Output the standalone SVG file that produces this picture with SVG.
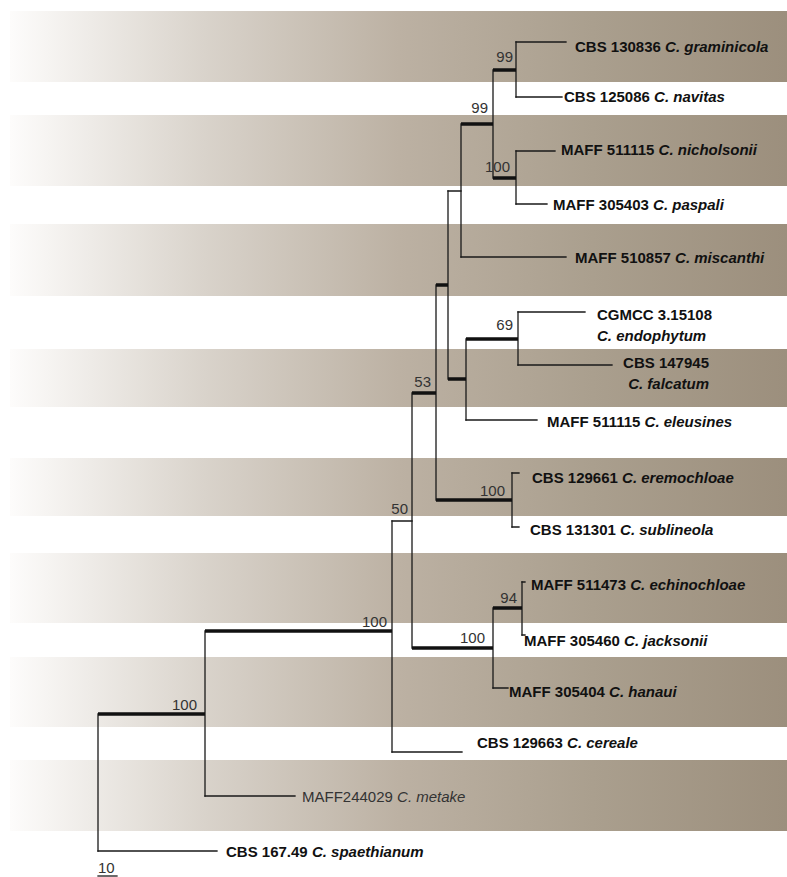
<svg xmlns="http://www.w3.org/2000/svg" width="787" height="877" viewBox="0 0 787 877">
<style>
.band{fill:url(#bg)}
.br{stroke:#1a1a1a;stroke-width:1.3;fill:none;stroke-linecap:square}
.tk{stroke:#111;stroke-width:3.6;fill:none}
.lb{font-family:"Liberation Sans",Arial,sans-serif;font-size:15px;font-weight:bold;fill:#111}
.lr{font-family:"Liberation Sans",Arial,sans-serif;font-size:15px;fill:#333}
.sp{font-family:"Liberation Sans",Arial,sans-serif;font-size:15px;fill:#333;text-anchor:end}
.it{font-style:italic}
</style>
<defs>
<linearGradient id="bg" gradientUnits="userSpaceOnUse" x1="10" y1="0" x2="787" y2="0">
<stop offset="0" stop-color="#fdfcfb"/>
<stop offset="0.25" stop-color="#d9d3cb"/>
<stop offset="0.5" stop-color="#bcb1a3"/>
<stop offset="0.75" stop-color="#aa9f8e"/>
<stop offset="1" stop-color="#9c8f7d"/>
</linearGradient>
</defs>
<rect width="787" height="877" fill="#ffffff"/>
<g id="bands">
<rect class="band" x="10" y="11" width="777" height="71"/>
<rect class="band" x="10" y="115" width="777" height="71"/>
<rect class="band" x="10" y="224" width="777" height="72"/>
<rect class="band" x="10" y="349" width="777" height="58"/>
<rect class="band" x="10" y="458" width="777" height="58"/>
<rect class="band" x="10" y="553" width="777" height="70"/>
<rect class="band" x="10" y="657" width="777" height="70"/>
<rect class="band" x="10" y="760" width="777" height="71"/>
</g>
<g id="connectors">
<path class="br" d="M516,42V97M493,70V178M516,151V204M461,124V257M448,191V379M466,339V420M518,312V365M436,285V500M512,473V527M412,393V648M493,608V688M522,582V635M392,521V752M205,631V796M98,714V851"/>
<path class="br" d="M516,42H566M516,97H562M516,151H555M516,204H547M461,257H566M518,312H585M518,365H612M466,420H537M512,473H519M512,527H519M522,582H525M522,635H525M493,688H508M392,752H462M205,796H295M98,851H217M448,191H461M392,521H412"/>
<path class="tk" d="M493,70H516M461,124H493M493,178H516M466,339H518M448,379H466M436,285H448M412,393H436M436,500H512M412,648H493M493,608H522M205,631H392M98,714H205"/>
</g>
<g id="support">
<text class="sp" x="513" y="62">99</text>
<text class="sp" x="488" y="113">99</text>
<text class="sp" x="510" y="172">100</text>
<text class="sp" x="513" y="330">69</text>
<text class="sp" x="431" y="387">53</text>
<text class="sp" x="505" y="496">100</text>
<text class="sp" x="408" y="514">50</text>
<text class="sp" x="517" y="603">94</text>
<text class="sp" x="485" y="643">100</text>
<text class="sp" x="387" y="627">100</text>
<text class="sp" x="197" y="710">100</text>
</g>
<g id="n-graminicola"><text class="lb" x="575" y="52">CBS 130836 <tspan class="it">C. graminicola</tspan></text></g>
<g id="n-navitas"><text class="lb" x="564" y="102">CBS 125086 <tspan class="it">C. navitas</tspan></text></g>
<g id="n-nicholsonii"><text class="lb" x="561" y="155">MAFF 511115 <tspan class="it">C. nicholsonii</tspan></text></g>
<g id="n-paspali"><text class="lb" x="553" y="210">MAFF 305403 <tspan class="it">C. paspali</tspan></text></g>
<g id="n-miscanthi"><text class="lb" x="575" y="263">MAFF 510857 <tspan class="it">C. miscanthi</tspan></text></g>
<g id="n-endophytum"><text class="lb" x="597" y="320">CGMCC 3.15108</text><text class="lb it" x="597" y="341">C. endophytum</text></g>
<g id="n-falcatum"><text class="lb" x="709" y="368" text-anchor="end">CBS 147945</text><text class="lb it" x="709" y="389" text-anchor="end">C. falcatum</text></g>
<g id="n-eleusines"><text class="lb" x="547" y="427">MAFF 511115 <tspan class="it">C. eleusines</tspan></text></g>
<g id="n-eremochloae"><text class="lb" x="532" y="483">CBS 129661 <tspan class="it">C. eremochloae</tspan></text></g>
<g id="n-sublineola"><text class="lb" x="530" y="535">CBS 131301 <tspan class="it">C. sublineola</tspan></text></g>
<g id="n-echinochloae"><text class="lb" x="531" y="590">MAFF 511473 <tspan class="it">C. echinochloae</tspan></text></g>
<g id="n-jacksonii"><text class="lb" x="524" y="646">MAFF 305460 <tspan class="it">C. jacksonii</tspan></text></g>
<g id="n-hanaui"><text class="lb" x="509" y="697">MAFF 305404 <tspan class="it">C. hanaui</tspan></text></g>
<g id="n-cereale"><text class="lb" x="477" y="748">CBS 129663 <tspan class="it">C. cereale</tspan></text></g>
<g id="n-metake"><text class="lr" x="302" y="802">MAFF244029 <tspan class="it">C. metake</tspan></text></g>
<g id="n-spaethianum"><text class="lb" x="226" y="857">CBS 167.49 <tspan class="it">C. spaethianum</tspan></text></g>
<g id="scale">
<text class="lr" x="98" y="873">10</text>
<path class="br" d="M98,876H117"/>
</g>
</svg>
